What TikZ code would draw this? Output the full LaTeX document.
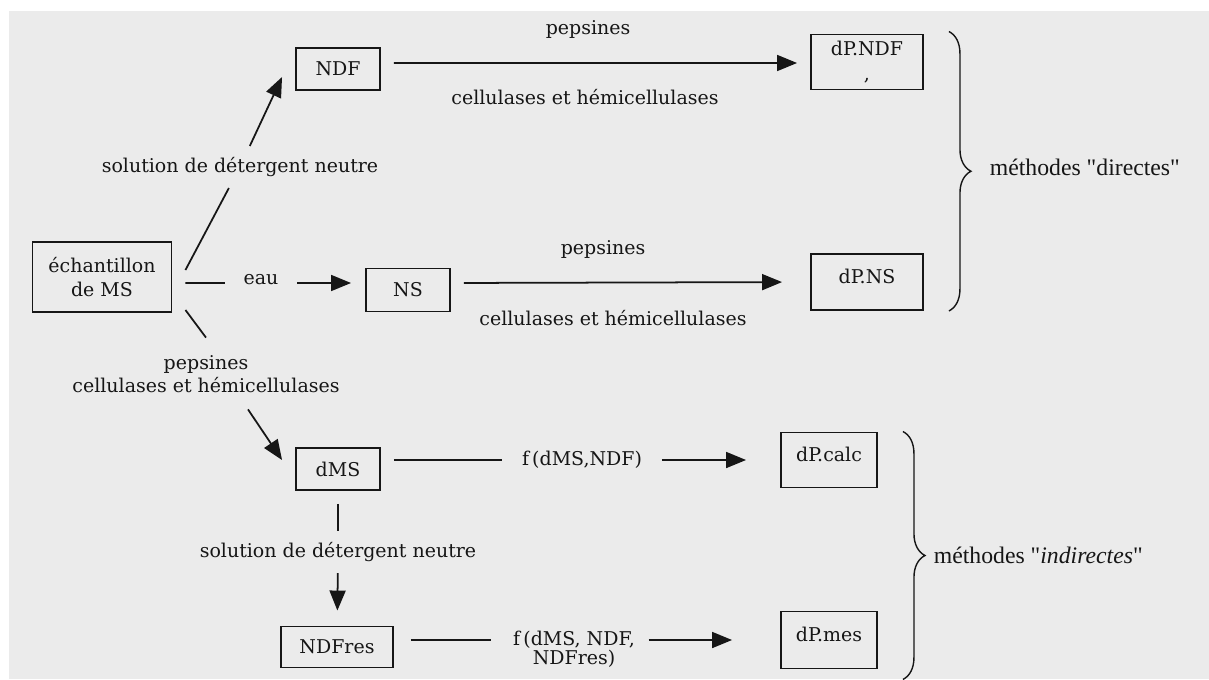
\documentclass[tikz,border=0pt]{standalone}
\usepackage{fontspec}
\setmainfont{DejaVu Serif}
\newfontfamily\tmsfamily{Liberation Serif}
\usepackage{tikz}
\usetikzlibrary{arrows.meta,positioning,decorations.pathreplacing}
\definecolor{pgray}{HTML}{EBEBEB}
\definecolor{pink}{HTML}{161616}
\newcommand{\tmsfont}{\tmsfamily\fontsize{13.5}{16}\selectfont}

\begin{document}
\begin{tikzpicture}[x=0.02cm, y=-0.02cm,
    box/.style={rectangle, draw=pink, line width=1.1pt, inner sep=2pt, align=center, text=pink},
    dpbox/.style={box, text depth=7pt},
    lbl/.style={inner sep=2pt, align=center, text=pink},
    ln/.style={draw=pink, line width=1pt},
    arr/.style={ln, -{Triangle[length=0.4cm,width=0.32cm]}},
    brc/.style={draw=pink, decorate, decoration={brace, amplitude=0.44cm}, line width=0.8pt}
]
    \fontsize{10.8}{14}\selectfont
    \useasboundingbox (0,0) rectangle (1209,679);
    \fill[pgray] (9,11) rectangle (1209,679);

    % Boxes
    \node[box, minimum width=2.78cm, minimum height=1.4cm] (ech) at (102,277) {échantillon\\de MS};
    \node[box, minimum width=1.68cm, minimum height=0.84cm] (NDF) at (338,69) {NDF};
    \node[box, minimum width=1.68cm, minimum height=0.86cm] (NS) at (408,290) {NS};
    \node[box, minimum width=1.68cm, minimum height=0.84cm] (dMS) at (338,469) {dMS};
    \node[box, minimum width=2.24cm, minimum height=0.82cm] (NDFres) at (337,647) {NDFres};
    \node[box, minimum width=2.24cm, minimum height=1.1cm] (dPNDF) at (867,62) {dP.NDF\\,};
    \node[dpbox, minimum width=2.24cm, minimum height=1.12cm] (dPNS) at (867,282) {dP.NS};
    \node[dpbox, minimum width=1.92cm, minimum height=1.1cm] (dPcalc) at (829,460) {dP.calc};
    \node[dpbox, minimum width=1.92cm, minimum height=1.14cm] (dPmes) at (829,640) {dP.mes};

    % Labels
    \node[lbl] (pep1) at (588,29) {pepsines};
    \node[lbl] (cel1) at (585,97) {cellulases et hémicellulases};
    \node[lbl] (pep2) at (603,249) {pepsines};
    \node[lbl] (cel2) at (613,318) {cellulases et hémicellulases};
    \node[lbl, inner ysep=0.22cm] (sdn1) at (240,167) {solution de détergent neutre};
    \node[lbl, inner xsep=0.37cm] (eau) at (261,280) {eau};
    \node[lbl] (pcl) at (206,374) {pepsines\\[-1pt]cellulases et hémicellulases};
    \node[lbl, inner ysep=0.22cm] (sdn2) at (338,552) {solution de détergent neutre};
    \node[lbl, inner xsep=0.39cm] (fcalc) at (582,460) {f\,(dMS,NDF)};
    \node[lbl] (fmes) at (574,649) {f\,(dMS, NDF,\\[-3pt]NDFres)};

    % Arrows
    \draw[ln] ([shift={(13,-7)}]ech.east) -- (sdn1);
    \draw[arr] (sdn1) -- ([shift={(-13,8)}]NDF.west);
    \draw[ln] ([shift={(13,6)}]ech.east) -- ([yshift=-0.06cm]eau.west);
    \draw[arr, shorten >=0.28cm] ([yshift=-0.06cm]eau.east) -- ([yshift=-0.06cm]eau.east -| NS.west);
    \draw[ln] ([shift={(13,33)}]ech.east) -- ([yshift=0.28cm]pcl.north);
    \draw[arr] ([shift={(42,13)}]pcl.south) -- ([shift={(-13,-9)}]dMS.west);
    \draw[arr, shorten <=0.26cm, shorten >=0.26cm] ([yshift=0.12cm]NDF.east) -- ([yshift=-0.02cm]dPNDF.west);
    \draw[arr, shorten <=0.26cm, shorten >=0.56cm] ([yshift=0.14cm]NS.east) -- (dPNS.west);
    \draw[ln, shorten <=0.26cm] (dMS.east |- dPcalc.west) -- (fcalc);
    \draw[arr, shorten >=0.68cm] (fcalc) -- (dPcalc.west);
    \draw[ln, shorten <=0.26cm] (dMS) -- (sdn2);
    \draw[arr, shorten >=0.3cm] (sdn2) -- (NDFres);
    \draw[ln, shorten <=0.34cm, shorten >=0.36cm] (NDFres.east |- dPmes.west) -- (fmes.west |- dPmes.west);
    \draw[arr, shorten <=0.2cm, shorten >=0.96cm] (fmes.east |- dPmes.west) -- (dPmes.west);

    % Braces
    \draw[brc] ([xshift=0.5cm, yshift=0.04cm]dPNDF.north east) -- ([xshift=0.5cm]dPNS.south east);
    \draw[brc] ([xshift=0.5cm]dPcalc.north east) -- ([xshift=0.5cm, yshift=-0.2cm]dPmes.south east);
    \node[lbl, anchor=west, font=\tmsfont] (mdir) at (986,167) {méthodes "directes"};
    \node[lbl, anchor=west, font=\tmsfont] (mind) at (930,555) {méthodes "\textit{indirectes}"};
\end{tikzpicture}
\end{document}
